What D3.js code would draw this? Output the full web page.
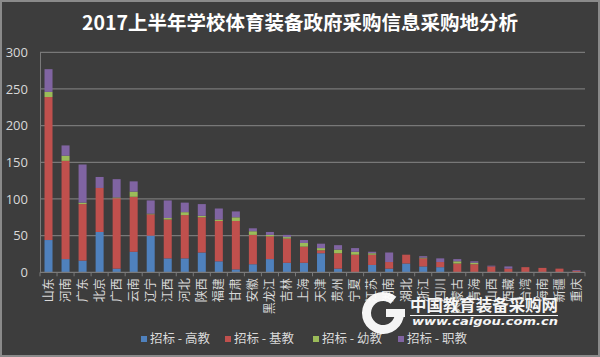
<!DOCTYPE html>
<html><head><meta charset="utf-8">
<script src="https://cdn.jsdelivr.net/npm/d3@7"></script>
<style>html,body{margin:0;padding:0;background:#3d3d3d;}svg{display:block;}</style>
</head><body>
<svg id="c" width="600" height="357"></svg>
<script>
const categories = ["山东","河南","广东","北京","广西","云南","辽宁","江西","河北","陕西","福建","甘肃","安徽","黑龙江","吉林","上海","天津","贵州","宁夏","江苏","湖南","湖北","浙江","四川","内蒙古","青海","山西","西藏","台湾","海南","新疆","重庆"];
const gaojiao = [44,18,16,55,5,28,50,19,19,27,15,4,11,18,13,13,26,5,0,10,5,12,8,7,0,0,0,0,0,0,0,0];
const jijiao  = [195,134,77,60,96,75,29,53,59,48,55,66,40,31,33,22,4,21,24,14,9,12,11,7,12,11,8,5,7,6,5,2];
const youjiao = [7,7,2,0,1,7,1,2,4,2,2,5,5,2,2,5,3,5,4,2,0,0,1,0,3,2,0,0,0,0,0,0];
const zhijiao = [31,14,52,15,25,14,18,24,13,16,15,8,4,4,3,4,6,6,5,2,13,0,2,5,3,2,1,3,0,0,0,1];
const seriesNames = ["招标 - 高教","招标 - 基教","招标 - 幼教","招标 - 职教"];
const seriesColors = ["#4f81bd","#c0504d","#9bbb59","#8064a2"];
const yTicks = [0,50,100,150,200,250,300];
const title = "2017上半年学校体育装备政府采购信息采购地分析";

const rows = categories.map((c,i)=>({cat:c, s0:gaojiao[i], s1:jijiao[i], s2:youjiao[i], s3:zhijiao[i]}));
const keys = ["s0","s1","s2","s3"];
const stacked = d3.stack().keys(keys)(rows);

const svg = d3.select("#c");
const W = 600, H = 357;
svg.append("rect").attr("x",1).attr("y",1).attr("width",W-2).attr("height",H-2)
  .attr("fill","#3d3d3d").attr("stroke","#8a8a8a").attr("stroke-width",2);

const x = d3.scaleBand().domain(categories).range([40,585]).paddingInner(0.53).paddingOuter(0.265);
const y = d3.scaleLinear().domain([0,300]).range([272.3,52.3]);

// gridlines
svg.append("g").selectAll("line").data(yTicks.filter(t=>t>0)).join("line")
  .attr("x1",40).attr("x2",585).attr("y1",d=>y(d)).attr("y2",d=>y(d))
  .attr("stroke","#787878").attr("stroke-width",1.2);

// y axis
const yAxis = svg.append("g").attr("transform","translate(40,0)")
  .call(d3.axisLeft(y).tickValues(yTicks).tickSize(0).tickPadding(12));
yAxis.select(".domain").attr("stroke","#7a7a7a");
yAxis.selectAll("text").attr("fill","#d9d9d9").style("font-family","'Open Sans','Noto Sans',sans-serif").style("font-size","13px");

// bars
svg.append("g").selectAll("g").data(stacked).join("g")
  .attr("fill",(d,i)=>seriesColors[i])
  .selectAll("rect").data(d=>d).join("rect")
  .attr("x",d=>x(d.data.cat)).attr("width",x.bandwidth())
  .attr("y",d=>y(d[1])).attr("height",d=>y(d[0])-y(d[1]));

// x axis
const step = x.step();
const xAxisG = svg.append("g").attr("transform","translate(0,272.3)");
xAxisG.append("line").attr("x1",40).attr("x2",585).attr("stroke","#7a7a7a").attr("stroke-width",1.2);
xAxisG.selectAll("line.tk").data(d3.range(categories.length+1)).join("line").attr("class","tk")
  .attr("x1",i=>40+i*step).attr("x2",i=>40+i*step).attr("y1",0).attr("y2",4)
  .attr("stroke","#7a7a7a");
xAxisG.selectAll("text").data(categories).join("text")
  .attr("transform",d=>`translate(${x(d)+x.bandwidth()/2},6) rotate(-90)`)
  .attr("text-anchor","end").attr("dy","0.36em")
  .attr("fill","#d9d9d9").style("font-family","'Noto Sans CJK SC',sans-serif").style("font-size","12px")
  .text(d=>d);

// title
svg.append("text").attr("x",300).attr("y",30).attr("text-anchor","middle")
  .attr("fill","#ffffff").style("font-family","'Noto Sans CJK SC',sans-serif")
  .style("font-weight","bold").style("font-size","19.5px").text(title);

// legend
const legendX = [141,225,313,398];
const lg = svg.append("g").selectAll("g").data(seriesNames).join("g")
  .attr("transform",(d,i)=>`translate(${legendX[i]},339)`);
lg.append("rect").attr("x",0).attr("y",-3).attr("width",6).attr("height",6).attr("fill",(d,i)=>seriesColors[i]);
lg.append("text").attr("x",9).attr("dy","0.35em").attr("fill","#d9d9d9")
  .style("font-family","'Noto Sans CJK SC',sans-serif").style("font-size","12.5px").text(d=>d);

// watermark
const wm = svg.append("g").attr("fill","#ffffff").attr("opacity",0.95);
wm.append("path").attr("transform","translate(383,313)")
  .attr("d", d3.arc().innerRadius(12).outerRadius(21).startAngle(Math.PI*0.5).endAngle(Math.PI*2+Math.PI*0.22)());
wm.append("rect").attr("x",386).attr("y",309).attr("width",19).attr("height",8);
wm.append("text").attr("x",410).attr("y",311).attr("textLength",148).attr("lengthAdjust","spacingAndGlyphs")
  .style("font-family","'Noto Sans CJK SC',sans-serif").style("font-weight","bold").style("font-size","16px").text("中国教育装备采购网");
wm.append("rect").attr("x",410).attr("y",315).attr("width",148).attr("height",1);
wm.append("text").attr("x",412).attr("y",325).attr("textLength",146).attr("lengthAdjust","spacingAndGlyphs")
  .style("font-family","'DejaVu Sans',sans-serif").style("font-style","italic").style("font-weight","bold").style("font-size","10.5px").text("www.caigou.com.cn");
</script>
</body></html>
